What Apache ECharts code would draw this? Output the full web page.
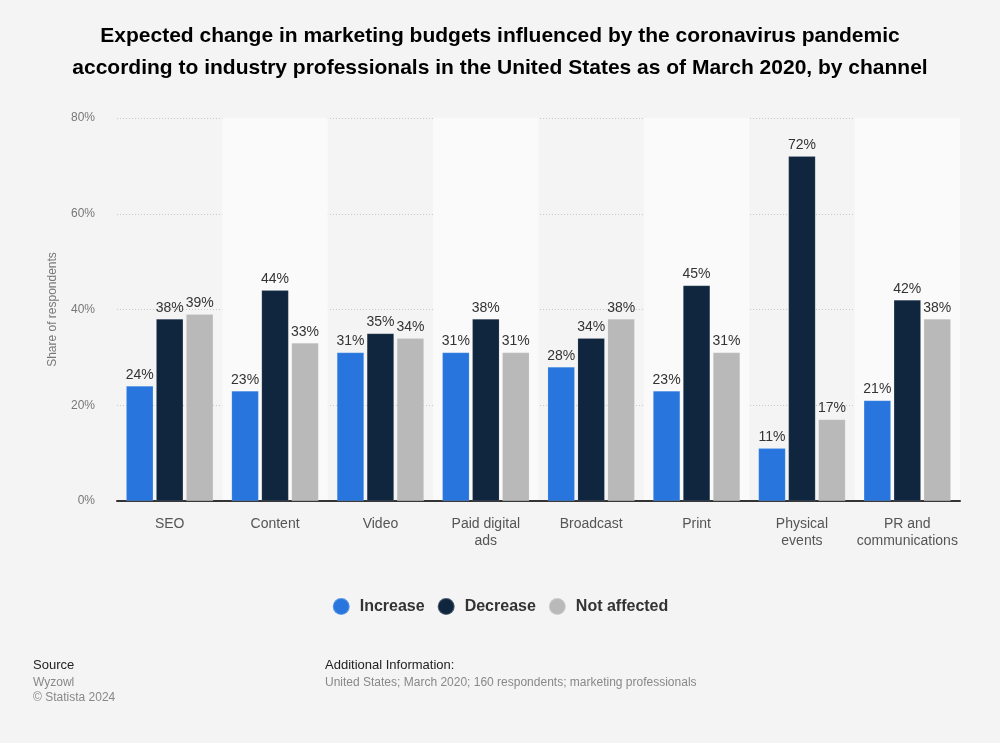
<!DOCTYPE html>
<html><head><meta charset="utf-8">
<script src="https://cdn.jsdelivr.net/npm/echarts@6/dist/echarts.min.js"></script>
<style>html,body{margin:0;padding:0;background:#f4f4f4;}#c{width:1000px;height:743px;}</style>
</head><body><div id="c"></div>
<script>
var categories = ['SEO','Content','Video','Paid digital\nads','Broadcast','Print','Physical\nevents','PR and\ncommunications'];
var increase = [24,23,31,31,28,23,11,21];
var decrease = [38,44,35,38,34,45,72,42];
var notAffected = [39,33,34,31,38,31,17,38];
var yTicks = [0,20,40,60,80];

var chart = echarts.init(document.getElementById('c'));
var font = 'Liberation Sans, Arial, Helvetica, sans-serif';
function ser(name, data, color){
  return {name:name,type:'bar',data:data,barWidth:27,barGap:'11%',
    itemStyle:{color:color,borderColor:'rgba(255,255,255,0.25)',borderWidth:0.5},
    label:{show:true,position:'top',distance:4,formatter:'{c}%',color:'#333',fontSize:14,fontFamily:font}};
}
chart.setOption({
  backgroundColor:'#f4f4f4',
  textStyle:{fontFamily:font},
  title:{text:'Expected change in marketing budgets influenced by the coronavirus pandemic\naccording to industry professionals in the United States as of March 2020, by channel',
    left:'center',top:15,textStyle:{fontSize:21,fontWeight:'bold',color:'#000',lineHeight:32,fontFamily:font}},
  grid:{left:117,right:40,top:118,bottom:242},
  legend:{bottom:122,left:'center',icon:'circle',itemWidth:17,itemHeight:17,itemGap:12,
    textStyle:{fontSize:16,fontWeight:'bold',color:'#333',fontFamily:font,padding:[0,0,0,5]},
    data:['Increase','Decrease','Not affected']},
  xAxis:{type:'category',data:categories,
    axisLine:{lineStyle:{color:'#333',width:2}},axisTick:{show:false},
    axisLabel:{color:'#555',fontSize:14,margin:15,lineHeight:17,interval:0,fontFamily:font},
    splitArea:{show:true,areaStyle:{color:['rgba(0,0,0,0)','#fafafa']}}},
  yAxis:{type:'value',min:0,max:80,interval:20,
    name:'Share of respondents',nameLocation:'middle',nameGap:58,nameRotate:90,
    nameTextStyle:{color:'#777',fontSize:12,fontFamily:font},
    axisLabel:{formatter:function(v){return yTicks.indexOf(v)>=0? v+'%':'';},color:'#777',fontSize:12,margin:22,fontFamily:font},
    axisLine:{show:false},axisTick:{show:false},
    splitLine:{lineStyle:{color:'#c8c8c8',type:[1,2],width:1}}},
  series:[ser('Increase',increase,'#2876dd'),ser('Decrease',decrease,'#10263e'),ser('Not affected',notAffected,'#b9b9b9')],
  graphic:[
    {type:'text',left:33,top:659,style:{text:'Source',fontSize:13,fill:'#222',fontFamily:font}},
    {type:'text',left:33,top:677,style:{text:'Wyzowl',fontSize:12,fill:'#888',fontFamily:font}},
    {type:'text',left:33,top:692,style:{text:'© Statista 2024',fontSize:12,fill:'#888',fontFamily:font}},
    {type:'text',left:325,top:659,style:{text:'Additional Information:',fontSize:13,fill:'#222',fontFamily:font}},
    {type:'text',left:325,top:677,style:{text:'United States; March 2020; 160 respondents; marketing professionals',fontSize:12,fill:'#888',fontFamily:font}}
  ]
});
</script></body></html>
